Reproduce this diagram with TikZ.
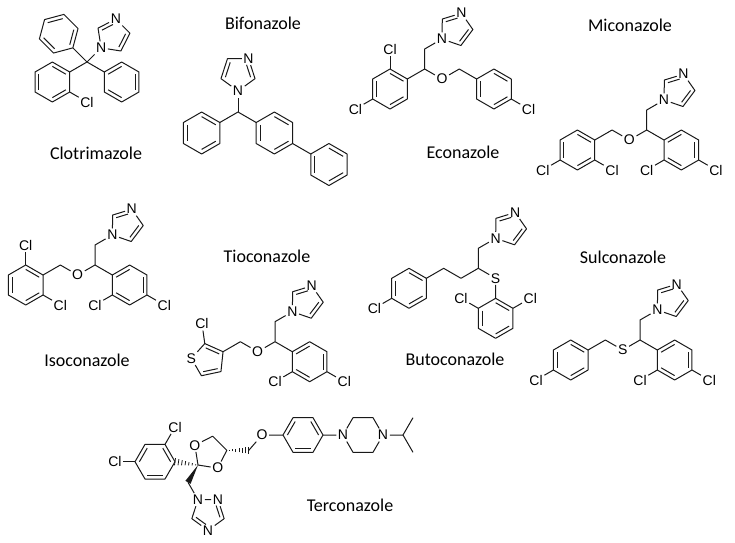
\documentclass[tikz,border=0pt]{standalone}
\usepackage{fontspec}
\setmainfont{Liberation Sans}
\newfontfamily\namefont{Carlito}
\usetikzlibrary{calc}

\newcommand{\bondlen}{20}  % bond length
\newcommand{\ringrad}{17}  % radius of a five ring

% six ring: name, centre, angle of corner 1, corners that start an inner line
\newcommand{\benz}[4]{%
  \coordinate (#1c) at (#2);
  \foreach \k in {1,...,6}
    \path (#1c) ++({#3+60*(\k-1)}:\bondlen) coordinate (#1\k);
  \draw[bond] (#11) -- (#12) -- (#13) -- (#14) -- (#15) -- (#16) -- cycle;
  \foreach \i in {#4}{
    \pgfmathtruncatemacro\j{mod(\i,6)+1}
    \draw[bond] ($(#1c)!0.78!(#1\i)$) -- ($(#1c)!0.78!(#1\j)$);
  }}
% five ring corners: name, first atom, direction to centre, turn
\newcommand{\pent}[4]{%
  \path (#2) ++(#3:\ringrad) coordinate (#1c);
  \foreach \k in {1,...,5}
    \path (#1c) ++({#3+180+#4*(\k-1)}:\ringrad) coordinate (#1\k);}
% imidazole on the node #2
\newcommand{\imid}[4]{%
  \pent{#1}{#2.center}{#3}{#4}
  \node[atom] (#1n) at (#13) {N};
  \draw[bond] (#2) -- (#12) -- (#1n) -- (#14) -- (#15) -- (#2);
  \draw[bond, shorten >=2.5pt] ($(#1c)!0.74!(#12)$) -- ($(#1c)!0.74!(#13)$);
  \draw[bond] ($(#1c)!0.74!(#14)$) -- ($(#1c)!0.74!(#15)$);}
% CH2 and imidazole above #1Q
\newcommand{\azole}[1]{%
  \coordinate (#1M) at ($(#1Q)+(90:\bondlen)$);
  \node[atom] (#1N) at ($(#1M)+(30:\bondlen)$) {N};
  \draw[bond] (#1Q) -- (#1M) -- (#1N);
  \imid{#1I}{#1N}{35}{-72}}
% 2,4-dichlorophenyl below right of #2
\newcommand{\dcph}[2]{%
  \benz{#1}{$(#2)+(-30:{2*\bondlen})$}{30}{2,4,6}
  \node[atom] (#1x) at ($(#14)+(210:\bondlen)$) {Cl};
  \node[atom] (#1y) at ($(#16)+(330:\bondlen)$) {Cl};
  \draw[bond] (#2) -- (#13);
  \draw[bond] (#14) -- (#1x);
  \draw[bond] (#16) -- (#1y);}
% hashed and solid wedges, narrow end first
\newcommand{\hashb}[2]{%
  \foreach \hs in {0.1,0.25,0.4,0.55,0.7,0.85,1}{
    \pgfmathsetlengthmacro\hw{0.3pt+3.3pt*\hs}
    \coordinate (hp) at ($(#1)!\hs!(#2)$);
    \draw[hash] ($(hp)!\hw!90:(#1)$) -- ($(hp)!\hw!-90:(#1)$);
  }}
\newcommand{\wedgeb}[2]{%
  \fill[black!90] (#1) -- ($(#2)!3pt!90:(#1)$) -- ($(#2)!3pt!-90:(#1)$) -- cycle;}

\begin{document}
\begin{tikzpicture}[x=1pt, y=1pt,
  bond/.style={line width=1pt, black!90, line join=round},
  hash/.style={line width=0.8pt, black!90},
  atom/.style={inner sep=1.5pt, font=\fontsize{14}{16}\selectfont},
  drugname/.style={font=\namefont\fontsize{18}{22}\selectfont}]
\useasboundingbox (0,0) rectangle (735,-542);

% Clotrimazole
\coordinate (cloQ) at (87,-62);
\benz{cloA}{$(cloQ)+(210:{2*\bondlen})$}{30}{1,3,5}
\benz{cloB}{$(cloQ)+(330:{2*\bondlen})$}{30}{2,4,6}
\benz{cloC}{$(cloQ)+(135:{2*\bondlen})$}{-45}{1,3,5}
\node[atom] (cloN) at ($(cloQ)+(45:\bondlen)$) {N};
\node[atom] (cloCl) at ($(cloA6)+(330:\bondlen)$) {Cl};
\draw[bond] (cloA1) -- (cloQ) -- (cloB3);
\draw[bond] (cloC1) -- (cloQ) -- (cloN);
\draw[bond] (cloA6) -- (cloCl);
\imid{cloI}{cloN}{45}{-72}
\node[drugname] (cloT) at (96,-153) {Clotrimazole};

% Bifonazole
\renewcommand{\bondlen}{21}\renewcommand{\ringrad}{17.9}
\coordinate (bifQ) at (238,-112);
\node[atom] (bifN) at ($(bifQ)+(90:\bondlen)$) {N};
\benz{bifA}{$(bifQ)+(210:{2*\bondlen})$}{30}{1,3,5}
\benz{bifB}{$(bifQ)+(330:{2*\bondlen})$}{30}{1,3,5}
\benz{bifC}{$(bifBc)+(330:{3*\bondlen})$}{30}{1,3,5}
\draw[bond] (bifA1) -- (bifQ) -- (bifB3);
\draw[bond] (bifQ) -- (bifN);
\draw[bond] (bifB6) -- (bifC3);
\imid{bifI}{bifN}{90}{72}
\renewcommand{\bondlen}{20}\renewcommand{\ringrad}{17}
\node[drugname] (bifT) at (263,-23) {Bifonazole};

% Econazole
\benz{ecoA}{390,-89}{30}{1,3,5}
\coordinate (ecoQ) at ($(ecoA1)+(30:\bondlen)$);
\azole{eco}
\node[atom] (ecoO) at ($(ecoQ)+(-30:\bondlen)$) {O};
\coordinate (ecoP) at ($(ecoO)+(30:\bondlen)$);
\benz{ecoB}{$(ecoP)+(-30:{2*\bondlen})$}{30}{1,3,5}
\node[atom] (ecoCl1) at ($(ecoA2)+(90:\bondlen)$) {Cl};
\node[atom] (ecoCl2) at ($(ecoA4)+(210:\bondlen)$) {Cl};
\node[atom] (ecoCl3) at ($(ecoB6)+(330:\bondlen)$) {Cl};
\draw[bond] (ecoA1) -- (ecoQ) -- (ecoO) -- (ecoP) -- (ecoB3);
\draw[bond] (ecoA2) -- (ecoCl1);
\draw[bond] (ecoA4) -- (ecoCl2);
\draw[bond] (ecoB6) -- (ecoCl3);
\node[drugname] (ecoT) at (463,-152) {Econazole};

% Miconazole
\coordinate (micQ) at (646.7,-130);
\azole{mic}
\dcph{micA}{micQ}
\node[atom] (micO) at ($(micQ)+(210:\bondlen)$) {O};
\coordinate (micP) at ($(micO)+(150:\bondlen)$);
\benz{micB}{$(micP)+(210:{2*\bondlen})$}{30}{1,3,5}
\node[atom] (micCl1) at ($(micB4)+(210:\bondlen)$) {Cl};
\node[atom] (micCl2) at ($(micB6)+(330:\bondlen)$) {Cl};
\draw[bond] (micQ) -- (micO) -- (micP) -- (micB1);
\draw[bond] (micB4) -- (micCl1);
\draw[bond] (micB6) -- (micCl2);
\node[drugname] (micT) at (630,-25) {Miconazole};

% Isoconazole
\coordinate (isoQ) at (95,-265);
\azole{iso}
\dcph{isoA}{isoQ}
\node[atom] (isoO) at ($(isoQ)+(210:\bondlen)$) {O};
\coordinate (isoP) at ($(isoO)+(150:\bondlen)$);
\benz{isoB}{$(isoP)+(210:{2*\bondlen})$}{30}{1,3,5}
\node[atom] (isoCl1) at ($(isoB2)+(90:\bondlen)$) {Cl};
\node[atom] (isoCl2) at ($(isoB6)+(330:\bondlen)$) {Cl};
\draw[bond] (isoQ) -- (isoO) -- (isoP) -- (isoB1);
\draw[bond] (isoB2) -- (isoCl1);
\draw[bond] (isoB6) -- (isoCl2);
\node[drugname] (isoT) at (87,-360) {Isoconazole};

% Tioconazole
\coordinate (tioQ) at (275,-341.7);
\azole{tio}
\dcph{tioA}{tioQ}
\node[atom] (tioO) at ($(tioQ)+(210:\bondlen)$) {O};
\coordinate (tioP) at ($(tioO)+(150:\bondlen)$);
\coordinate (tioR) at ($(tioP)+(210:\bondlen)$);
\pent{tioT}{tioR}{210}{72}
\node[atom] (tioS) at (tioT3) {S};
\node[atom] (tioCl) at ($(tioT2)+(98:\bondlen)$) {Cl};
\draw[bond] (tioQ) -- (tioO) -- (tioP) -- (tioT1);
\draw[bond] (tioT1) -- (tioT2) -- (tioS) -- (tioT4) -- (tioT5) -- (tioT1);
\draw[bond] ($(tioTc)!0.74!(tioT1)$) -- ($(tioTc)!0.74!(tioT2)$);
\draw[bond] ($(tioTc)!0.74!(tioT4)$) -- ($(tioTc)!0.74!(tioT5)$);
\draw[bond] (tioT2) -- (tioCl);
\node[drugname] (tioT) at (267,-256) {Tioconazole};

% Butoconazole
\coordinate (butQ) at (478.3,-268.3);
\azole{but}
\node[atom] (butS) at ($(butQ)+(-30:\bondlen)$) {S};
\benz{butA}{$(butS)+(-90:{2*\bondlen})$}{30}{1,3,5}
\node[atom] (butCl1) at ($(butA3)+(150:\bondlen)$) {Cl};
\node[atom] (butCl2) at ($(butA1)+(30:\bondlen)$) {Cl};
\coordinate (butC1) at ($(butQ)+(210:\bondlen)$);
\coordinate (butC2) at ($(butC1)+(150:\bondlen)$);
\benz{butB}{$(butC2)+(210:{2*\bondlen})$}{30}{1,3,5}
\node[atom] (butCl3) at ($(butB4)+(210:\bondlen)$) {Cl};
\draw[bond] (butQ) -- (butS) -- (butA2);
\draw[bond] (butQ) -- (butC1) -- (butC2) -- (butB1);
\draw[bond] (butA3) -- (butCl1);
\draw[bond] (butA1) -- (butCl2);
\draw[bond] (butB4) -- (butCl3);
\node[drugname] (butT) at (455,-359) {Butoconazole};

% Sulconazole
\coordinate (sulQ) at (640,-340);
\azole{sul}
\dcph{sulA}{sulQ}
\node[atom] (sulS) at ($(sulQ)+(210:\bondlen)$) {S};
\coordinate (sulP) at ($(sulS)+(150:\bondlen)$);
\benz{sulB}{$(sulP)+(210:{2*\bondlen})$}{30}{1,3,5}
\node[atom] (sulCl) at ($(sulB4)+(210:\bondlen)$) {Cl};
\draw[bond] (sulQ) -- (sulS) -- (sulP) -- (sulB1);
\draw[bond] (sulB4) -- (sulCl);
\node[drugname] (sulT) at (623,-257) {Sulconazole};

% Terconazole
\benz{terA}{155,-461.7}{0}{1,3,5}
\node[atom] (terCl1) at ($(terA2)+(60:\bondlen)$) {Cl};
\node[atom] (terCl2) at ($(terA4)+(180:\bondlen)$) {Cl};
\draw[bond] (terA2) -- (terCl1);
\draw[bond] (terA4) -- (terCl2);
\coordinate (terK) at (198,-465);
\pent{terD}{terK}{45}{-72}
\node[atom] (terO1) at (terD2) {O};
\node[atom] (terO2) at (terD5) {O};
\draw[bond] (terK) -- (terO1) -- (terD3) -- (terD4) -- (terO2) -- (terK);
\coordinate (terE) at ($(terD4)+(0:22)$);
\node[atom] (terO3) at (262,-435) {O};
\benz{terB}{303,-435}{0}{1,3,5}
\node[atom] (terN1) at ($(terB1)+(0:\bondlen)$) {N};
\coordinate (terPc) at ($(terN1)+(0:\bondlen)$);
\foreach \k in {1,...,6}
  \path (terPc) ++({60*(\k-1)}:\bondlen) coordinate (terP\k);
\node[atom] (terN4) at (terP1) {N};
\coordinate (terI) at ($(terN4)+(0:\bondlen)$);
\coordinate (terI1) at ($(terI)+(60:\bondlen)$);
\coordinate (terI2) at ($(terI)+(-60:\bondlen)$);
\draw[bond] (terE) -- (terO3) -- (terB4);
\draw[bond] (terB1) -- (terN1) -- (terP3) -- (terP2) -- (terN4) -- (terP6) -- (terP5) -- (terN1);
\draw[bond] (terN4) -- (terI) -- (terI1);
\draw[bond] (terI) -- (terI2);
\coordinate (terF) at ($(terK)+(240:\bondlen)$);
\node[atom] (terT1n) at ($(terF)+(-60:\bondlen)$) {N};
\pent{terT}{terT1n.center}{-54}{-72}
\node[atom] (terT2n) at (terT2) {N};
\node[atom] (terT4n) at (terT4) {N};
\draw[bond] (terF) -- (terT1n) -- (terT2n) -- (terT3) -- (terT4n) -- (terT5) -- (terT1n);
\draw[bond, shorten <=2.5pt] ($(terTc)!0.74!(terT2)$) -- ($(terTc)!0.74!(terT3)$);
\draw[bond, shorten <=2.5pt] ($(terTc)!0.74!(terT4)$) -- ($(terTc)!0.74!(terT5)$);
\hashb{terK}{terA1}
\wedgeb{terK}{terF}
\hashb{terD4}{terE}
\node[drugname] (terT) at (350,-505) {Terconazole};
\end{tikzpicture}
\end{document}
